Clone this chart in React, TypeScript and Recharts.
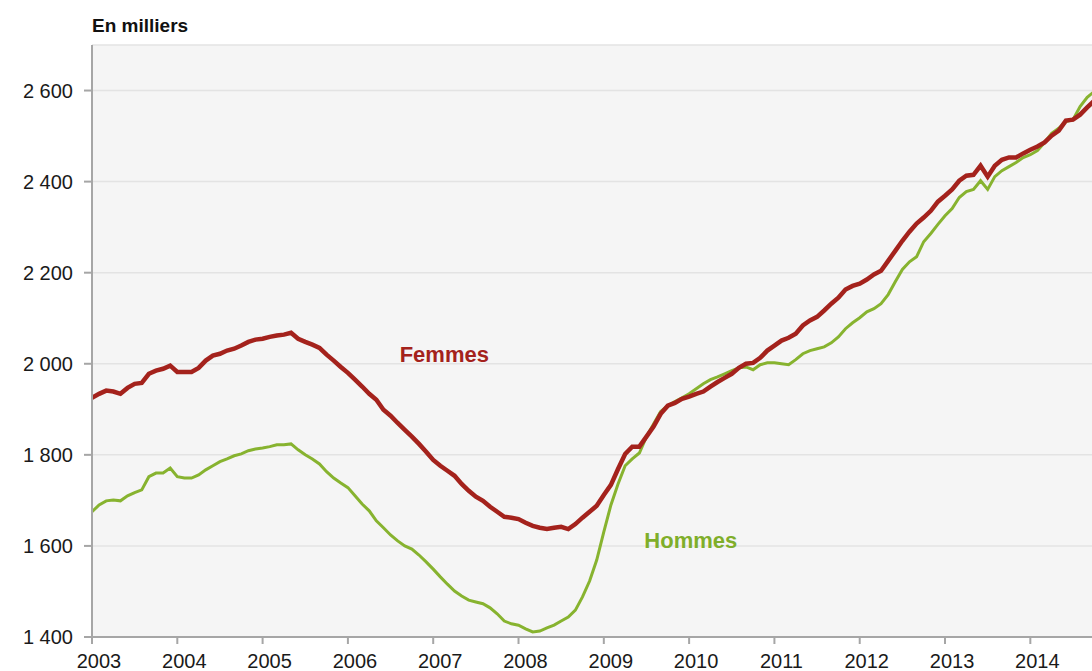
import { LineChart, Line, XAxis, YAxis, CartesianGrid, ReferenceDot } from 'recharts';

// monthly series, Jan 2003 -> Oct 2014 (thousands)
const startYear = 2003;

const femmes = [
  1925, 1934, 1941, 1939, 1934, 1947, 1956, 1958, 1978, 1985, 1989, 1996,
  1982, 1982, 1982, 1991, 2007, 2018, 2022, 2029, 2033, 2040, 2048, 2053,
  2055, 2059, 2062, 2064, 2068, 2055, 2048, 2042, 2035, 2020, 2007, 1993,
  1980, 1965, 1950, 1934, 1921, 1899, 1886, 1870, 1855, 1840, 1824, 1807,
  1789, 1776, 1765, 1754, 1736, 1721, 1708, 1699, 1686, 1675, 1664, 1662,
  1659, 1651, 1644, 1640, 1637, 1640, 1642, 1637, 1648, 1662, 1675, 1688,
  1712, 1734, 1769, 1802, 1818, 1818, 1840, 1862, 1890, 1908, 1914, 1923,
  1928, 1934, 1939, 1950, 1960, 1969, 1978, 1991, 2000, 2002, 2013, 2029,
  2040, 2051, 2057, 2066, 2084, 2095, 2103, 2117, 2132, 2145, 2163, 2171,
  2176, 2185, 2196, 2204, 2226, 2248, 2270, 2290, 2308, 2321, 2336, 2356,
  2369, 2383, 2402, 2413, 2415, 2435, 2411, 2435, 2448, 2453, 2453, 2462,
  2470, 2477, 2486, 2501, 2512, 2534, 2536, 2547, 2563, 2578,
];

const hommes = [
  1675, 1690, 1699, 1701, 1699, 1710, 1717, 1723, 1752, 1760, 1760, 1771,
  1752, 1749, 1749, 1756, 1767, 1776, 1785, 1791, 1798, 1802, 1809, 1813,
  1815, 1818, 1822, 1822, 1824, 1811, 1800, 1791, 1780, 1763, 1749, 1738,
  1728, 1710, 1692, 1677, 1655, 1640, 1624, 1611, 1600, 1593, 1580, 1565,
  1549, 1532, 1516, 1501, 1490, 1481, 1477, 1473, 1464, 1451, 1435, 1429,
  1426, 1418, 1411, 1413, 1420, 1426, 1435, 1444, 1459, 1488, 1523, 1569,
  1631, 1690, 1736, 1776, 1791, 1804, 1840, 1868, 1895, 1908, 1917, 1925,
  1934, 1945, 1956, 1965, 1971, 1978, 1985, 1991, 1993, 1987, 1998, 2002,
  2002, 2000, 1998, 2009, 2022, 2029, 2033, 2037, 2046, 2059, 2077, 2090,
  2101, 2114, 2121, 2132, 2152, 2180, 2207, 2224, 2235, 2268, 2286, 2306,
  2325, 2341, 2365, 2378, 2383, 2402, 2383, 2411, 2424, 2433, 2442, 2453,
  2459, 2468, 2486, 2506, 2517, 2532, 2536, 2565, 2585, 2598,
];

const yearTicks = [2003, 2004, 2005, 2006, 2007, 2008, 2009, 2010, 2011, 2012, 2013, 2014];
const valueTicks = [1400, 1600, 1800, 2000, 2200, 2400, 2600];

const data = femmes.map((f, i) => ({ t: startYear + i / 12, femmes: f, hommes: hommes[i] }));

const RED = '#a4221c';
const GREEN = '#87b32f';
const FONT = '"Liberation Sans", Arial, sans-serif';

const fmt = (v: number) => `${Math.floor(v / 1000)} ${String(v % 1000).padStart(3, '0')}`;

const XTick = ({ x, y, payload }: any) => (
  <text x={x + 7} y={y + 22} textAnchor="middle" fill="#1a1a1a" fontSize={20} fontFamily={FONT}>
    {payload.value}
  </text>
);

const YTick = ({ x, y, payload }: any) => (
  <text x={x - 9} y={y + 7} textAnchor="end" fill="#1a1a1a" fontSize={20} fontFamily={FONT}>
    {fmt(payload.value)}
  </text>
);

export default function App() {
  return (
    <div style={{ position: 'absolute', top: 0, left: 0, width: 1092, height: 671, background: '#fff', fontFamily: FONT, overflow: 'hidden' }}>
      <div style={{ position: 'absolute', left: 92, top: 15, fontSize: 19, fontWeight: 'bold', color: '#111' }}>En milliers</div>
      <LineChart width={1092} height={671} data={data} margin={{ top: 45, right: 0, left: 0, bottom: 0 }}>
        <CartesianGrid vertical={false} stroke="#e3e3e3" strokeWidth={1.5} fill="#f5f5f5" />
        <XAxis
          dataKey="t"
          type="number"
          domain={[2003, 2014.723]}
          ticks={yearTicks}
          allowDataOverflow
          height={34}
          tickSize={7}
          stroke="#a6a6a6"
          strokeWidth={2}
          tick={<XTick />}
        />
        <YAxis
          type="number"
          domain={[1400, 2700]}
          ticks={valueTicks}
          width={92}
          tickSize={8}
          stroke="#a6a6a6"
          strokeWidth={2}
          tick={<YTick />}
        />
        <Line type="linear" dataKey="hommes" stroke={GREEN} strokeWidth={3} dot={false} isAnimationActive={false} />
        <Line type="linear" dataKey="femmes" stroke={RED} strokeWidth={4.5} dot={false} isAnimationActive={false} />
        <ReferenceDot
          x={2007.13}
          y={2022}
          r={0}
          fill="none"
          stroke="none"
          label={{ value: 'Femmes', position: 'center', fill: RED, fontSize: 22, fontWeight: 'bold', fontFamily: FONT }}
        />
        <ReferenceDot
          x={2010.02}
          y={1613}
          r={0}
          fill="none"
          stroke="none"
          label={{ value: 'Hommes', position: 'center', fill: '#7fae2a', fontSize: 22, fontWeight: 'bold', fontFamily: FONT }}
        />
      </LineChart>
    </div>
  );
}
